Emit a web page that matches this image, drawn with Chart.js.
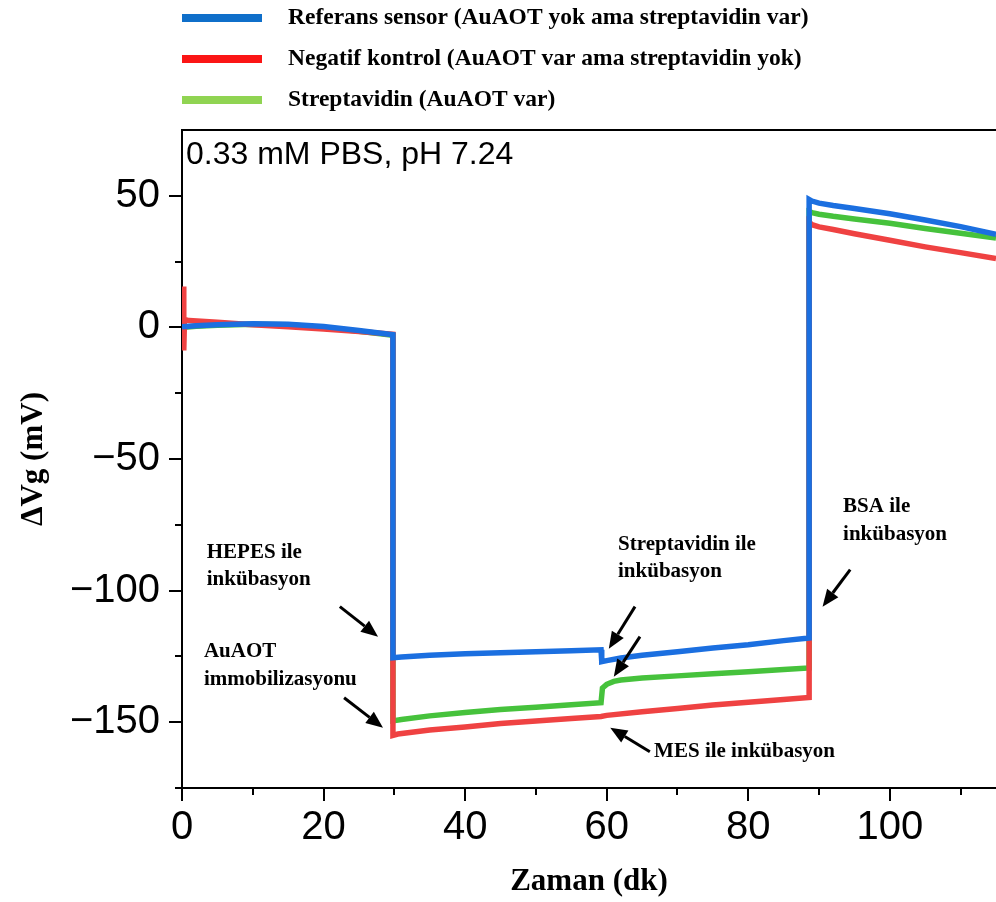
<!DOCTYPE html>
<html>
<head>
<meta charset="utf-8">
<script src="https://cdn.jsdelivr.net/npm/chart.js@4/dist/chart.umd.min.js"></script>
<style>
  html, body { margin: 0; padding: 0; background: #fff; }
  #wrap { width: 996px; height: 902px; }
</style>
</head>
<body>
<div id="wrap"><canvas id="c" width="996" height="902"></canvas></div>
<script>
// ---- Series: time (dk) and ΔVg (mV) ----
const refTime   = [0, 2, 5, 10, 15, 20, 25, 29.8, 29.8, 31, 35, 40, 45, 50, 55, 59.2, 59.3, 60, 62, 65, 70, 75, 80, 85, 88.6, 88.6, 89, 90, 92, 95, 100, 105, 110, 115];
const refValues = [0.2, 0.6, 1.0, 1.4, 1.2, 0.3, -1.2, -2.8, -125.5, -125.2, -124.6, -124.0, -123.6, -123.2, -122.9, -122.5, -127.0, -126.6, -125.6, -124.6, -123.2, -121.8, -120.6, -119.0, -118.0, 48.6, 48.0, 47.2, 46.3, 45.2, 43.2, 40.8, 38.3, 35.4];

const negTime   = [0, 0.15, 0.25, 0.35, 1, 5, 10, 15, 20, 25, 29.8, 29.8, 30.5, 35, 40, 45, 50, 55, 59.2, 60, 65, 70, 75, 80, 85, 88.6, 88.6, 89, 90, 92, 95, 100, 105, 110, 115];
const negValues = [0, 15.5, -8.8, 3.0, 2.6, 2.0, 1.0, 0.2, -0.6, -1.6, -2.6, -155.0, -154.5, -153.0, -151.8, -150.5, -149.5, -148.6, -147.8, -147.4, -146.0, -144.8, -143.5, -142.4, -141.4, -140.6, 40.0, 39.0, 38.2, 37.2, 35.6, 33.1, 30.6, 28.4, 26.2];

const strTime   = [0, 2, 5, 10, 15, 20, 25, 29.8, 29.8, 31, 35, 40, 45, 50, 55, 59.2, 59.4, 60, 61, 62, 65, 70, 75, 80, 85, 88.6, 88.6, 89, 90, 92, 95, 100, 105, 110, 115];
const strValues = [0, 0.4, 0.8, 1.2, 1.0, 0, -1.5, -3.0, -149.5, -149.0, -147.6, -146.3, -145.2, -144.3, -143.4, -142.6, -137.0, -135.6, -134.5, -134.0, -133.2, -132.4, -131.6, -130.8, -130.0, -129.4, 44.0, 43.6, 43.0, 42.2, 41.2, 39.6, 37.6, 35.8, 34.0];

const seriesNames = [
  'Referans sensor (AuAOT yok ama streptavidin var)',
  'Negatif kontrol (AuAOT var ama streptavidin yok)',
  'Streptavidin (AuAOT var)'
];

// Axis ticks
const xTickStep = 10, xLabelStep = 20;
const yTickStep = 25, yLabelStep = 50;

const pairs = (ts, vs) => ts.map((t, i) => ({ x: t, y: vs[i] }));

const lineColors   = ['#1b6fe0', '#ef4242', '#46c23c'];
const legendColors = ['#0f6fca', '#fb1515', '#90d452'];

// Step annotations (data coordinates)
const notes = [
  { lines: ['HEPES ile', 'inkübasyon'], x: 3.5, y: [-87.5, -97.9] },
  { lines: ['AuAOT', 'immobilizasyonu'], x: 3.1, y: [-125.1, -135.7] },
  { lines: ['Streptavidin ile', 'inkübasyon'], x: 61.6, y: [-84.4, -94.7] },
  { lines: ['MES ile inkübasyon'], x: 66.7, y: [-163.1] },
  { lines: ['BSA ile', 'inkübasyon'], x: 93.4, y: [-70.0, -80.6] }
];
const arrows = [
  { from: [22.3, -106.1], to: [27.7, -117.5] },
  { from: [22.9, -140.7], to: [28.4, -152.1] },
  { from: [64.0, -106.1], to: [60.3, -122.1] },
  { from: [64.7, -117.5], to: [61.0, -132.7] },
  { from: [66.1, -161.2], to: [60.5, -152.1] },
  { from: [94.4, -92.0], to: [90.5, -106.1] }
];

function drawArrow(ctx, x0, y0, x1, y1) {
  const ang = Math.atan2(y1 - y0, x1 - x0);
  const head = 17, half = 7;
  const bx = x1 - head * Math.cos(ang), by = y1 - head * Math.sin(ang);
  ctx.lineWidth = 3;
  ctx.beginPath(); ctx.moveTo(x0, y0); ctx.lineTo(bx, by); ctx.stroke();
  ctx.beginPath();
  ctx.moveTo(x1, y1);
  ctx.lineTo(bx + half * Math.sin(ang), by - half * Math.cos(ang));
  ctx.lineTo(bx - half * Math.sin(ang), by + half * Math.cos(ang));
  ctx.closePath(); ctx.fill();
}

const decorations = {
  id: 'decorations',
  afterDraw(chart) {
    const { ctx, chartArea: a, scales: { x, y } } = chart;
    ctx.save();
    ctx.strokeStyle = '#000'; ctx.fillStyle = '#000';
    ctx.lineWidth = 2;
    // frame top
    ctx.beginPath(); ctx.moveTo(a.left - 1, a.top); ctx.lineTo(a.right, a.top); ctx.stroke();
    // outward ticks, long on labelled values
    x.ticks.forEach(t => {
      const px = Math.round(x.getPixelForValue(t.value));
      const len = t.value % xLabelStep === 0 ? 13 : 7;
      ctx.beginPath(); ctx.moveTo(px, a.bottom); ctx.lineTo(px, a.bottom + len); ctx.stroke();
    });
    y.ticks.forEach(t => {
      if (t.value >= y.max) return;
      const py = Math.round(y.getPixelForValue(t.value));
      const len = t.value % yLabelStep === 0 ? 13 : 7;
      ctx.beginPath(); ctx.moveTo(a.left, py); ctx.lineTo(a.left - len, py); ctx.stroke();
    });

    // legend
    ctx.textBaseline = 'middle';
    ctx.font = 'bold 23.5px "Liberation Serif", "Times New Roman", serif';
    seriesNames.forEach((name, i) => {
      const ly = 18 + i * 41;
      ctx.strokeStyle = legendColors[i]; ctx.lineWidth = 8;
      ctx.beginPath(); ctx.moveTo(182, ly); ctx.lineTo(262, ly); ctx.stroke();
      ctx.fillStyle = '#000';
      ctx.fillText(name, 288, ly);
    });

    // condition label
    ctx.textBaseline = 'alphabetic';
    ctx.font = '32px "Liberation Sans", Arial, sans-serif';
    ctx.fillText('0.33 mM PBS, pH 7.24', a.left + 4, a.top + 34);

    // step notes and arrows
    ctx.font = 'bold 21px "Liberation Serif", "Times New Roman", serif';
    notes.forEach(n => {
      n.lines.forEach((s, k) => ctx.fillText(s, x.getPixelForValue(n.x), y.getPixelForValue(n.y[k])));
    });
    ctx.strokeStyle = '#000'; ctx.fillStyle = '#000';
    arrows.forEach(r => drawArrow(ctx,
      x.getPixelForValue(r.from[0]), y.getPixelForValue(r.from[1]),
      x.getPixelForValue(r.to[0]), y.getPixelForValue(r.to[1])));
    ctx.restore();
  }
};

const tickFont = { family: '"Liberation Sans", Arial, sans-serif', size: 40 };
const titleFont = { family: '"Liberation Serif", "Times New Roman", serif', size: 31, weight: 'bold' };
const fmt = v => (v < 0 ? '\u2212' + Math.abs(v) : String(v));

new Chart(document.getElementById('c'), {
  type: 'line',
  data: {
    datasets: [
      { label: seriesNames[0], data: pairs(refTime, refValues), borderColor: lineColors[0] },
      { label: seriesNames[1], data: pairs(negTime, negValues), borderColor: lineColors[1] },
      { label: seriesNames[2], data: pairs(strTime, strValues), borderColor: lineColors[2] }
    ]
  },
  options: {
    responsive: false,
    animation: false,
    devicePixelRatio: 1,
    layout: { padding: { top: 130, left: 0, right: 0, bottom: 0 } },
    elements: {
      line: { borderWidth: 5.5, tension: 0, fill: false, borderJoinStyle: 'miter' },
      point: { radius: 0, hoverRadius: 0 }
    },
    plugins: { legend: { display: false }, tooltip: { enabled: false } },
    scales: {
      x: {
        type: 'linear', min: 0, max: 115,
        afterFit: s => { s.height = 114; },
        border: { display: true, color: '#000', width: 2 },
        grid: { drawOnChartArea: false, drawTicks: false },
        ticks: {
          stepSize: xTickStep, includeBounds: false, autoSkip: false, maxRotation: 0,
          color: '#000', font: tickFont, padding: 16,
          callback: v => (v % xLabelStep === 0 ? fmt(v) : '')
        },
        title: { display: true, text: 'Zaman (dk)', color: '#000', font: titleFont, padding: { top: 0, bottom: 1 } }
      },
      y: {
        type: 'linear', min: -175, max: 75,
        afterFit: s => { s.width = 182; },
        border: { display: true, color: '#000', width: 2 },
        grid: { drawOnChartArea: false, drawTicks: false },
        ticks: {
          stepSize: yTickStep, includeBounds: false, autoSkip: false,
          color: '#000', font: tickFont, padding: 22,
          callback: v => (v % yLabelStep === 0 ? fmt(v) : '')
        },
        title: { display: true, text: 'ΔVg (mV)', color: '#000', font: titleFont, padding: { top: 15, bottom: 0 } }
      }
    }
  },
  plugins: [decorations]
});
</script>
</body>
</html>
